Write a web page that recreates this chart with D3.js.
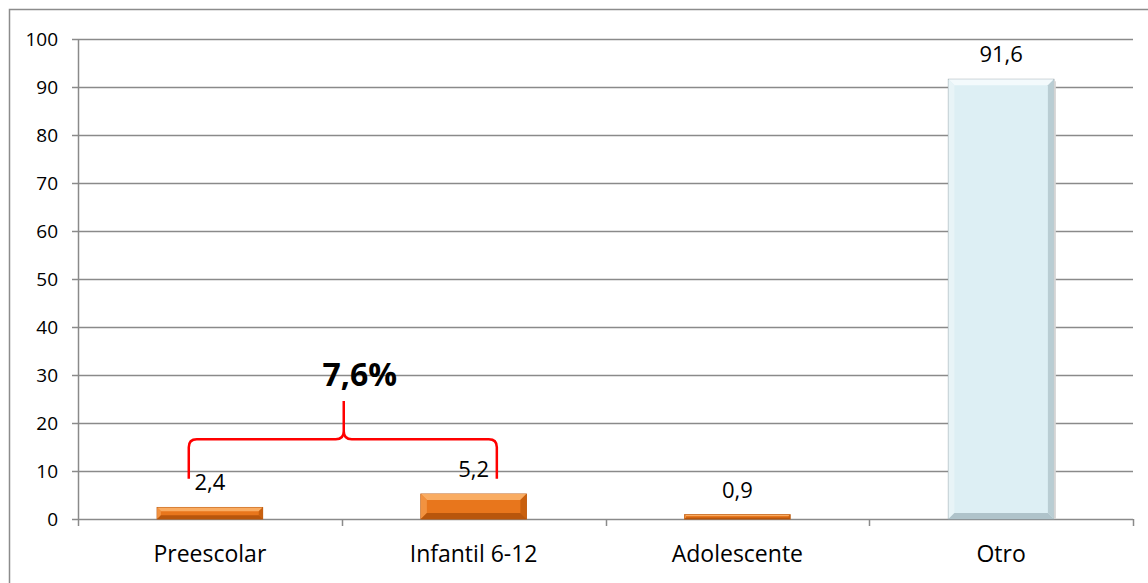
<!DOCTYPE html>
<html>
<head>
<meta charset="utf-8">
<script src="https://cdn.jsdelivr.net/npm/d3@7"></script>
<style>
  body { margin: 0; background: #fff; }
  text { font-family: "Open Sans", sans-serif; fill: #000; }
</style>
</head>
<body>
<div id="chart"></div>
<script>
// data
const categories = ["Preescolar", "Infantil 6-12", "Adolescente", "Otro"];
const values = [2.4, 5.2, 0.9, 91.6];
const valueLabels = ["2,4", "5,2", "0,9", "91,6"];
const yTicks = [0, 10, 20, 30, 40, 50, 60, 70, 80, 90, 100];
// brace annotation over the first two categories
const braceCategories = ["Preescolar", "Infantil 6-12"];
const braceLevels = { ends: 8.4, bar: 16.6, tip: 24.6, label: 27.8 };
const braceLabel = "7,6%";

function chart() {
  var w = 1148;
  var h = 583;
  var margin = { left: 78, right: 15, top: 39, bottom: 64 };

  const svg = d3
    .select("#chart")
    .append("svg")
    .attr("width", w)
    .attr("height", h);

  // outer chart border
  svg
    .append("rect")
    .attr("x", 9.5)
    .attr("y", 9.5)
    .attr("width", w)
    .attr("height", h)
    .attr("fill", "none")
    .attr("stroke", "#8c8c8c")
    .attr("stroke-width", 1.5);

  // scales
  const x = d3
    .scaleBand()
    .domain(categories)
    .range([margin.left, w - margin.right])
    .paddingInner(0.6)
    .paddingOuter(0.3);

  const xBounds = d3
    .scaleLinear()
    .domain([0, categories.length])
    .range([margin.left, w - margin.right]);

  const y = d3
    .scaleLinear()
    .domain([0, 100])
    .range([h - margin.bottom, margin.top]);

  const grey = "#8a8a8a";

  // gridlines
  svg
    .append("g")
    .selectAll("line")
    .data(yTicks)
    .enter()
    .append("line")
    .attr("x1", margin.left - 6)
    .attr("x2", w - margin.right)
    .attr("y1", (d) => Math.round(y(d)) + 0.5)
    .attr("y2", (d) => Math.round(y(d)) + 0.5)
    .attr("stroke", grey)
    .attr("stroke-width", 1.5);

  // y axis line
  svg
    .append("line")
    .attr("x1", margin.left + 0.5)
    .attr("x2", margin.left + 0.5)
    .attr("y1", y(100))
    .attr("y2", y(0) + 7)
    .attr("stroke", grey)
    .attr("stroke-width", 1.5);

  // x ticks at category boundaries
  svg
    .append("g")
    .selectAll("line")
    .data(d3.range(1, categories.length + 1))
    .enter()
    .append("line")
    .attr("x1", (d) => Math.round(xBounds(d)) + 0.5)
    .attr("x2", (d) => Math.round(xBounds(d)) + 0.5)
    .attr("y1", y(0))
    .attr("y2", y(0) + 7)
    .attr("stroke", grey)
    .attr("stroke-width", 1.5);

  // y tick labels
  svg
    .append("g")
    .selectAll("text")
    .data(yTicks)
    .enter()
    .append("text")
    .attr("x", margin.left - 20)
    .attr("y", (d) => y(d))
    .attr("dy", "0.36em")
    .attr("text-anchor", "end")
    .style("font-size", "19px")
    .text((d) => d);

  // category labels
  svg
    .append("g")
    .selectAll("text")
    .data(categories)
    .enter()
    .append("text")
    .attr("x", (d) => x(d) + x.bandwidth() / 2)
    .attr("y", y(0) + 43)
    .attr("text-anchor", "middle")
    .style("font-size", "23px")
    .text((d) => d);

  // bevelled bars
  const orange = { main: "#E8761C", top: "#F9AC62", left: "#F29240", right: "#C9600E", bottom: "#B8560C", edge: "#B8560C" };
  const blue = { main: "#DDEFF4", top: "#F3FAFC", left: "#E8F4F7", right: "#B9CDD3", bottom: "#AFC3CA", edge: "#8f9ea3" };

  const bars = svg
    .append("g")
    .selectAll("g")
    .data(categories)
    .enter()
    .append("g");

  bars.each(function (d, i) {
    const c = i < 3 ? orange : blue;
    const x0 = x(d);
    const bw = x.bandwidth();
    const y0 = y(values[i]);
    const bh = y(0) - y0;
    const b = Math.min(6, bh / 3);
    const g = d3.select(this);
    g.append("rect")
      .attr("x", x0)
      .attr("y", y0)
      .attr("width", bw)
      .attr("height", bh)
      .attr("fill", c.main)
      .attr("stroke", c.edge)
      .attr("stroke-width", 1);
    const faces = [
      [[x0, y0], [x0 + bw, y0], [x0 + bw - b, y0 + b], [x0 + b, y0 + b], c.top],
      [[x0, y0], [x0 + b, y0 + b], [x0 + b, y0 + bh - b], [x0, y0 + bh], c.left],
      [[x0 + bw, y0], [x0 + bw - b, y0 + b], [x0 + bw - b, y0 + bh - b], [x0 + bw, y0 + bh], c.right],
      [[x0, y0 + bh], [x0 + b, y0 + bh - b], [x0 + bw - b, y0 + bh - b], [x0 + bw, y0 + bh], c.bottom],
    ];
    faces.forEach(function (f) {
      g.append("polygon")
        .attr("points", f.slice(0, 4).map((p) => p.join(",")).join(" "))
        .attr("fill", f[4]);
    });
    if (i === 3) {
      // soft shadow on right edge
      g.append("line")
        .attr("x1", x0 + bw + 1)
        .attr("x2", x0 + bw + 1)
        .attr("y1", y0 + 2)
        .attr("y2", y(0))
        .attr("stroke", "#d4d4d4")
        .attr("stroke-width", 2);
    }
  });

  // value labels
  svg
    .append("g")
    .selectAll("text")
    .data(categories)
    .enter()
    .append("text")
    .attr("x", (d) => x(d) + x.bandwidth() / 2)
    .attr("y", (d, i) => y(values[i]) - 17)
    .attr("text-anchor", "middle")
    .style("font-size", "22px")
    .text((d, i) => valueLabels[i]);

  // red brace
  const xl = x(braceCategories[0]) + x.bandwidth() * 0.3;
  const xr = x(braceCategories[1]) + x.bandwidth() * 0.72;
  const xm = xBounds(1) + 2;
  const yEnd = y(braceLevels.ends);
  const yBar = y(braceLevels.bar);
  const yTip = y(braceLevels.tip);
  const r = 8;
  const p = d3.path();
  p.moveTo(xl, yEnd);
  p.lineTo(xl, yBar + r);
  p.quadraticCurveTo(xl, yBar, xl + r, yBar);
  p.lineTo(xm - r, yBar);
  p.quadraticCurveTo(xm, yBar, xm, yBar - r);
  p.lineTo(xm, yTip);
  p.moveTo(xm, yBar - r);
  p.quadraticCurveTo(xm, yBar, xm + r, yBar);
  p.lineTo(xr - r, yBar);
  p.quadraticCurveTo(xr, yBar, xr, yBar + r);
  p.lineTo(xr, yEnd);
  svg
    .append("path")
    .attr("d", p.toString())
    .attr("fill", "none")
    .attr("stroke", "#ff0000")
    .attr("stroke-width", 2.5);

  svg
    .append("text")
    .attr("x", xm + 16)
    .attr("y", y(braceLevels.label))
    .attr("text-anchor", "middle")
    .style("font-size", "32px")
    .style("font-weight", "bold")
    .text(braceLabel);
}

chart();
</script>
</body>
</html>
